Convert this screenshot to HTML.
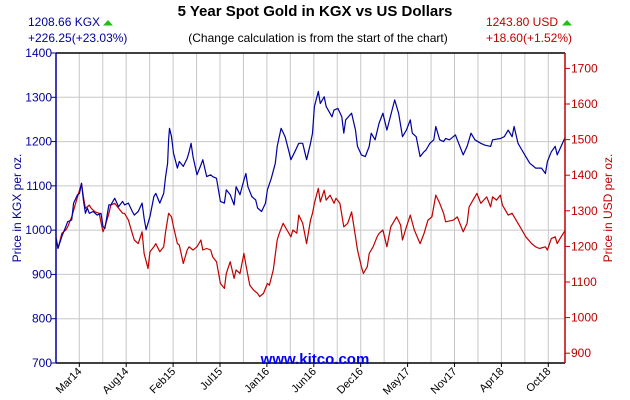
<!DOCTYPE html>
<html><head><meta charset="utf-8"><style>
html,body{margin:0;padding:0;background:#fff;}
svg{display:block;font-family:"Liberation Sans",Arial,sans-serif;}
</style></head><body>
<svg id="chart" width="630" height="400" viewBox="0 0 630 400" xmlns="http://www.w3.org/2000/svg">
<rect width="630" height="400" fill="#fff"/>
<text x="315" y="16" text-anchor="middle" font-size="15" font-weight="bold" fill="#000">5 Year Spot Gold in KGX vs US Dollars</text>
<text x="28" y="26" font-size="12" fill="#00009c">1208.66 KGX</text>
<polygon points="103,25.5 113,25.5 108,20" fill="#22c014"/>
<text x="28" y="42" font-size="12" fill="#00009c">+226.25(+23.03%)</text>
<text x="318" y="42" text-anchor="middle" font-size="12" fill="#000">(Change calculation is from the start of the chart)</text>
<text x="558" y="26" text-anchor="end" font-size="12" fill="#c00000">1243.80 USD</text>
<polygon points="562,25.5 572,25.5 567,20" fill="#22c014"/>
<text x="572" y="42" text-anchor="end" font-size="12" fill="#c00000">+18.60(+1.52%)</text>
<g id="grid"></g>
<g id="series"></g>
<g id="axes"></g>
<text transform="translate(21,208) rotate(-90)" text-anchor="middle" font-size="12" fill="#00009c">Price in KGX per oz.</text>
<text transform="translate(612,208) rotate(-90)" text-anchor="middle" font-size="12" fill="#c00000">Price in USD per oz.</text>
<text x="315" y="364" text-anchor="middle" font-size="15" font-weight="bold" fill="#0000ff">www.kitco.com</text>
</svg>
<script>
const xLabels=["Mar14","Aug14","Feb15","Jul15","Jan16","Jun16","Dec16","May17","Nov17","Apr18","Oct18"];
const leftTicks=[700,800,900,1000,1100,1200,1300,1400];
const rightTicks=[900,1000,1100,1200,1300,1400,1500,1600,1700];
const blueWeeks=[0,1,3,5,6,8,9,11,12,13,14,15,16,17,19,21,23,24,25,27,28,30,32,34,35,37,39,40,42,44,45,46,48,50,51,53,55,56,57,57.5,58,59,60,62,63,65,67,68,69,70,72,74,75,77,79,80,82,84,86,87,89,91,92,94,96,97,98,100,102,103,105,107,108,110,112,113,115,117,119,120,122,124,126,128,130,131,132,134,135,137,138,141,142,144,146,147,148,151,153,154,156,158,160,161,163,165,167,169,171,173,175,177,179,181,182,184,186,188,189,191,193,194,196,198,199,201,204,205,208,210,212,214,217,219,222,223,227,229,231,233,234,236,238,240,242,244,245,248,250,251,253,255,256,258,260];
const blueVals=[982,959,986,1008,1019,1023,1061,1080,1083,1106,1068,1038,1050,1038,1042,1034,1038,1008,1004,1057,1057,1072,1053,1065,1057,1061,1042,1034,1042,1061,1027,1001,1031,1076,1083,1061,1083,1121,1151,1204,1230,1211,1174,1140,1155,1144,1162,1177,1196,1166,1125,1147,1159,1121,1125,1121,1117,1065,1061,1091,1080,1057,1098,1080,1113,1128,1098,1076,1068,1050,1042,1061,1091,1117,1151,1189,1230,1211,1177,1159,1177,1196,1196,1159,1196,1219,1279,1313,1286,1301,1279,1256,1271,1275,1256,1219,1249,1264,1226,1189,1170,1166,1189,1219,1204,1241,1264,1226,1260,1294,1264,1211,1226,1249,1219,1211,1166,1177,1181,1196,1204,1234,1204,1200,1207,1204,1215,1204,1170,1189,1219,1204,1196,1192,1189,1204,1207,1211,1226,1211,1234,1196,1181,1166,1151,1144,1140,1140,1128,1155,1177,1189,1170,1189,1209];
const redWeeks=[0,1,3,5,6,8,10,11,13,14,15,17,18,20,22,24,25,27,28,30,32,34,35,37,39,40,42,44,45,47,48,50,51,53,55,56,57.5,59,60,62,63,65,67,68,70,72,74,75,77,79,80,82,84,86,87,89,91,92,94,96,97,99,101,103,104,106,108,109,111,113,114,116,118,120,121,123,124,126,128,130,131,132,134,135,137,138,140,142,143,145,147,149,151,153,154,156,157,159,160,162,164,165,167,169,171,174,176,177,179,181,183,186,188,190,192,194,196,198,199,203,205,208,210,211,213,215,217,220,222,223,225,227,228,231,233,236,238,240,243,245,247,250,251,253,255,256,258,260];
const redVals=[1225,1194,1237,1246,1255,1283,1321,1339,1377,1339,1307,1316,1307,1297,1293,1241,1255,1293,1316,1321,1307,1293,1293,1274,1236,1218,1208,1241,1180,1138,1185,1199,1208,1185,1199,1241,1293,1283,1255,1208,1204,1152,1190,1199,1190,1199,1218,1190,1194,1190,1171,1157,1096,1082,1124,1157,1110,1134,1124,1180,1148,1091,1077,1068,1059,1068,1096,1091,1134,1218,1236,1265,1246,1227,1246,1237,1288,1265,1208,1274,1293,1321,1363,1325,1358,1330,1344,1321,1335,1321,1255,1265,1297,1227,1190,1143,1124,1143,1180,1199,1227,1236,1246,1199,1255,1283,1260,1218,1255,1288,1246,1208,1236,1274,1283,1344,1321,1293,1269,1274,1283,1241,1265,1311,1330,1349,1321,1339,1311,1339,1330,1344,1316,1288,1293,1265,1246,1227,1208,1199,1194,1199,1190,1222,1227,1208,1227,1244];

const NS="http://www.w3.org/2000/svg";
const L=56,R=565,T=53,B=363;
const xW=w=>L+w/260*(R-L);
const yL=v=>B-(v-700)/700*(B-T);
const yR=v=>317.6-(v-1000)*0.356;
function mk(tag,attrs,parent){const e=document.createElementNS(NS,tag);for(const k in attrs)e.setAttribute(k,attrs[k]);parent.appendChild(e);return e;}
const grid=document.getElementById('grid'),axes=document.getElementById('axes'),series=document.getElementById('series');
for(let k=0;k<21;k++){const x=79.3+k*23.45;
 const g=mk('line',{x1:x,x2:x,y1:T,y2:B,stroke:'#c8c8c8','stroke-width':1},grid);
 
 
}
leftTicks.forEach(v=>{const y=yL(v);
 if(v>700&&v<1400){const g=mk('line',{x1:L,x2:R,y1:y,y2:y,stroke:'#c8c8c8','stroke-width':1},grid);
 
 }
 mk('line',{x1:L-5,x2:L,y1:y,y2:y,stroke:'#00009c'},axes);
 const t=mk('text',{x:L-4,y:y+4,'text-anchor':'end','font-size':12,fill:'#00009c'},axes);t.textContent=v;
 
 
});
rightTicks.forEach(v=>{const y=yR(v);
 mk('line',{x1:R,x2:R+5,y1:y,y2:y,stroke:'#c00000'},axes);
 const t=mk('text',{x:R+6,y:y+4,'font-size':12,fill:'#c00000'},axes);t.textContent=v;
 
 
});
xLabels.forEach((s,i)=>{const x=79.3+i*2*23.45;
 mk('line',{x1:x,x2:x,y1:B,y2:B+4,stroke:'#000'},axes);
 const t=mk('text',{transform:`translate(${x+3},${B+9}) rotate(-45)`,'text-anchor':'end','font-size':11,fill:'#000'},axes);t.textContent=s;
 
 
});
function path(ws,vs,yf,col,name){let d='';ws.forEach((w,i)=>{d+=(i?'L':'M')+xW(w).toFixed(1)+','+yf(vs[i]).toFixed(1);});
 const p=mk('path',{d:d,fill:'none',stroke:col,'stroke-width':1.2,'stroke-linejoin':'round'},series);
 
 
}
path(redWeeks,redVals,yR,'#c00000','usd-line');
path(blueWeeks,blueVals,yL,'#0000a0','kgx-line');
mk('line',{x1:L,x2:R,y1:T,y2:T,stroke:'#000','stroke-width':1.5},axes);
mk('line',{x1:L,x2:R,y1:B,y2:B,stroke:'#000','stroke-width':1.5},axes);
mk('line',{x1:L,x2:L,y1:T,y2:B,stroke:'#00009c','stroke-width':1.5},axes);
mk('line',{x1:R,x2:R,y1:T,y2:B,stroke:'#c00000','stroke-width':1.5},axes);
</script>
</body></html>
